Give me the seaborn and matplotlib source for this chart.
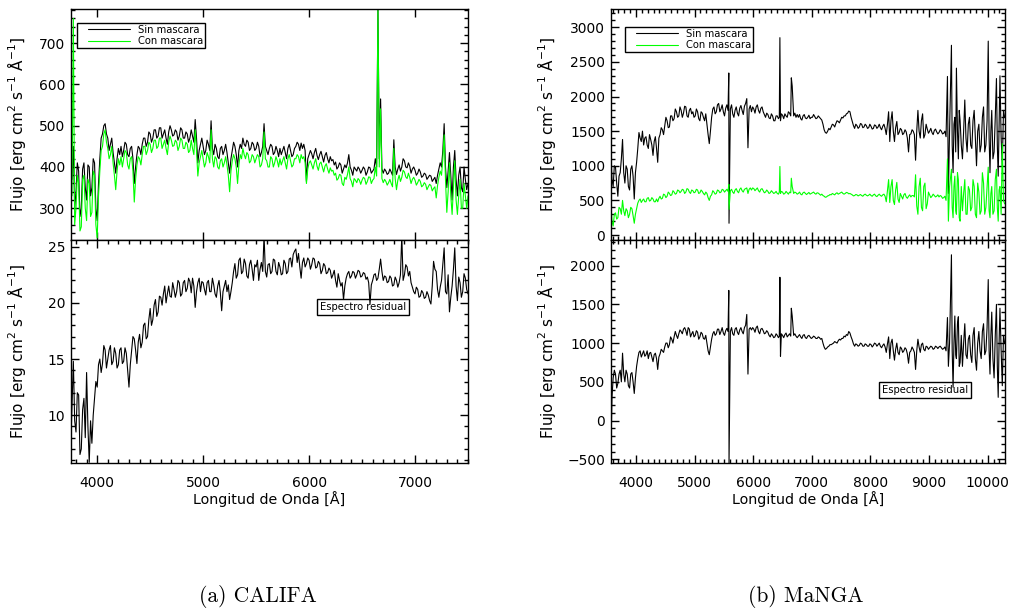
import numpy as np
import pandas as pd
import matplotlib
matplotlib.use("Agg")
import matplotlib.pyplot as plt
import seaborn as sns
from matplotlib.ticker import MultipleLocator, NullLocator
from matplotlib.legend_handler import HandlerLine2D
from matplotlib.lines import Line2D

# ---------------- CALIFA data ----------------
cal_wave = [
    3750, 3762.5, 3775, 3787.5, 3800, 3812.5, 3825, 3837.5, 3850, 3862.5,
    3875, 3887.5, 3900, 3912.5, 3925, 3937.5, 3950, 3962.5, 3975, 3987.5,
    4000, 4012.5, 4025, 4037.5, 4050, 4062.5, 4075, 4087.5, 4100, 4112.5,
    4125, 4137.5, 4150, 4162.5, 4175, 4187.5, 4200, 4212.5, 4225, 4237.5,
    4250, 4262.5, 4275, 4287.5, 4300, 4312.5, 4325, 4337.5, 4350, 4362.5,
    4375, 4387.5, 4400, 4412.5, 4425, 4437.5, 4450, 4462.5, 4475, 4487.5,
    4500, 4512.5, 4525, 4537.5, 4550, 4562.5, 4575, 4587.5, 4600, 4612.5,
    4625, 4637.5, 4650, 4662.5, 4675, 4687.5, 4700, 4712.5, 4725, 4737.5,
    4750, 4762.5, 4775, 4787.5, 4800, 4812.5, 4825, 4837.5, 4850, 4862.5,
    4875, 4887.5, 4900, 4912.5, 4925, 4937.5, 4950, 4962.5, 4975, 4987.5,
    5000, 5012.5, 5025, 5037.5, 5050, 5062.5, 5075, 5087.5, 5100, 5112.5,
    5125, 5137.5, 5150, 5162.5, 5175, 5187.5, 5200, 5212.5, 5225, 5237.5,
    5250, 5262.5, 5275, 5287.5, 5300, 5312.5, 5325, 5337.5, 5350, 5362.5,
    5375, 5387.5, 5400, 5412.5, 5425, 5437.5, 5450, 5462.5, 5475, 5487.5,
    5500, 5512.5, 5525, 5537.5, 5550, 5562.5, 5575, 5587.5, 5600, 5612.5,
    5625, 5637.5, 5650, 5662.5, 5675, 5687.5, 5700, 5712.5, 5725, 5737.5,
    5750, 5762.5, 5775, 5787.5, 5800, 5812.5, 5825, 5837.5, 5850, 5862.5,
    5875, 5887.5, 5900, 5912.5, 5925, 5937.5, 5950, 5962.5, 5975, 5987.5,
    6000, 6012.5, 6025, 6037.5, 6050, 6062.5, 6075, 6087.5, 6100, 6112.5,
    6125, 6137.5, 6150, 6162.5, 6175, 6187.5, 6200, 6212.5, 6225, 6237.5,
    6250, 6262.5, 6275, 6287.5, 6300, 6312.5, 6325, 6337.5, 6350, 6362.5,
    6375, 6387.5, 6400, 6412.5, 6425, 6437.5, 6450, 6462.5, 6475, 6487.5,
    6500, 6512.5, 6525, 6537.5, 6550, 6562.5, 6575, 6587.5, 6600, 6612.5,
    6625, 6637.5, 6650, 6662.5, 6675, 6687.5, 6700, 6712.5, 6725, 6737.5,
    6750, 6762.5, 6775, 6787.5, 6800, 6812.5, 6825, 6837.5, 6850, 6862.5,
    6875, 6887.5, 6900, 6912.5, 6925, 6937.5, 6950, 6962.5, 6975, 6987.5,
    7000, 7012.5, 7025, 7037.5, 7050, 7062.5, 7075, 7087.5, 7100, 7112.5,
    7125, 7137.5, 7150, 7162.5, 7175, 7187.5, 7200, 7212.5, 7225, 7237.5,
    7250, 7262.5, 7275, 7287.5, 7300, 7312.5, 7325, 7337.5, 7350, 7362.5,
    7375, 7387.5, 7400, 7412.5, 7425, 7437.5, 7450, 7462.5, 7475, 7487.5,
    7500]

cal_sin = [
    400, 370, 450, 300, 340, 410, 390, 280, 300, 395,
    410, 350, 320, 405, 400, 330, 350, 420, 410, 300,
    270, 360, 420, 470, 480, 500, 505, 480, 470, 440,
    455, 470, 435, 410, 385, 420, 445, 430, 450, 425,
    440, 460, 455, 430, 425, 445, 450, 420, 360, 400,
    430, 450, 445, 430, 455, 470, 470, 450, 460, 485,
    480, 460, 470, 490, 490, 470, 475, 495, 495, 470,
    480, 490, 470, 455, 485, 500, 490, 475, 478, 490,
    485, 465, 475, 495, 490, 470, 470, 485, 480, 460,
    470, 490, 475, 460, 515, 470, 410, 440, 455, 470,
    450, 430, 440, 465, 455, 440, 512, 445, 430, 455,
    445, 425, 420, 445, 450, 430, 440, 455, 435, 410,
    385, 420, 440, 460, 450, 430, 400, 440, 455, 445,
    470, 455, 450, 465, 460, 440, 445, 460, 455, 440,
    445, 460, 450, 425, 435, 450, 505, 450, 440, 430,
    445, 455, 450, 430, 435, 450, 440, 425, 445, 430,
    440, 450, 435, 420, 445, 455, 440, 425, 430, 445,
    450, 460, 455, 440, 458, 445, 455, 440, 365, 420,
    430, 440, 432, 420, 435, 445, 428, 418, 430, 438,
    425, 412, 428, 435, 420, 410, 425, 415, 418, 405,
    412, 395, 400, 410, 405, 385, 395, 405, 398, 410,
    430, 400, 392, 380, 400, 395, 390, 400, 395, 385,
    392, 400, 395, 380, 388, 400, 398, 385, 390, 395,
    420, 400, 790, 420, 565, 395, 385, 395, 390, 382,
    385, 395, 388, 380, 466, 400, 382, 395, 405, 390,
    400, 420, 415, 400, 398, 410, 402, 385, 395, 400,
    392, 380, 385, 395, 388, 375, 378, 385, 382, 370,
    375, 380, 378, 365, 370, 375, 360, 380, 395, 410,
    400, 440, 505, 400, 350, 390, 435, 380, 320, 400,
    440, 370, 330, 380, 400, 350, 340, 400, 370, 345,
    360]

cal_con = [
    360, 330, 760, 260, 300, 380, 360, 245, 255, 370,
    380, 300, 270, 370, 360, 280, 290, 390, 380, 260,
    228, 330, 390, 440, 450, 480, 490, 460, 445, 420,
    430, 450, 410, 380, 345, 390, 420, 405, 425, 400,
    420, 440, 435, 405, 395, 420, 425, 390, 315, 370,
    405, 425, 420, 405, 430, 450, 450, 430, 440, 460,
    455, 435, 445, 465, 465, 445, 450, 470, 470, 445,
    455, 465, 445, 430, 460, 475, 465, 450, 452, 465,
    460, 440, 450, 470, 465, 445, 445, 460, 455, 435,
    440, 465, 445, 430, 490, 440, 378, 410, 425, 440,
    420, 400, 410, 435, 425, 410, 490, 420, 400, 425,
    420, 400, 395, 415, 420, 400, 410, 425, 405, 380,
    340, 390, 415, 430, 420, 400, 360, 405, 430, 420,
    445, 430, 420, 435, 430, 410, 415, 430, 425, 410,
    420, 430, 425, 400, 405, 420, 485, 420, 415, 400,
    400, 425, 420, 400, 410, 425, 415, 400, 420, 405,
    415, 425, 410, 395, 420, 430, 415, 400, 405, 420,
    420, 430, 425, 410, 430, 420, 425, 410, 360, 395,
    410, 415, 405, 395, 410, 420, 402, 392, 408, 412,
    400, 388, 402, 408, 395, 385, 398, 390, 392, 380,
    385, 368, 372, 382, 380, 360, 355, 375, 370, 382,
    400, 372, 365, 352, 372, 368, 362, 372, 368, 358,
    368, 375, 372, 358, 365, 376, 375, 360, 368, 372,
    400, 378, 790, 400, 541, 372, 362, 370, 365, 356,
    362, 370, 360, 352, 445, 372, 345, 368, 380, 365,
    375, 392, 388, 376, 372, 385, 375, 360, 370, 375,
    368, 356, 362, 370, 365, 352, 355, 362, 358, 345,
    352, 358, 355, 342, 348, 352, 325, 355, 375, 390,
    380, 420, 478, 370, 290, 340, 410, 330, 285, 350,
    415, 320, 285, 330, 370, 300, 300, 360, 330, 300,
    330]

cal_res = [
    7.0, 11.0, 14.8, 9.5, 8.5, 12.0, 11.8, 6.5, 7.0, 10.5,
    11.5, 8.0, 13.8, 9.0, 5.8, 9.5, 7.5, 10.0, 11.5, 13.0,
    12.5, 14.5, 15.0, 13.8, 14.6, 16.2, 15.8, 14.2, 15.0, 15.8,
    16.2, 14.5, 14.8, 16.0, 15.5, 14.2, 14.5, 15.8, 16.0, 14.6,
    14.8, 16.0, 15.5, 14.0, 12.5, 14.5, 15.8, 17.0, 16.8, 15.8,
    14.6, 16.5, 17.2, 16.0, 16.5, 18.0, 18.2, 16.8, 17.0, 18.5,
    19.5, 18.0, 18.5, 19.8, 20.3, 18.8, 19.2, 20.6, 20.5, 19.8,
    20.8, 21.5, 20.0, 20.8, 21.5, 20.6, 20.5, 21.8, 21.2, 20.5,
    21.0, 22.0, 21.8, 20.6, 20.8, 21.8, 22.0, 21.0, 21.3, 22.2,
    21.9, 20.9, 22.2, 21.5, 19.6, 21.0, 21.8, 22.2, 21.0, 21.9,
    21.8, 21.2, 20.7, 21.8, 22.0, 21.0, 21.0, 22.2, 21.6, 20.8,
    20.5, 21.5, 22.0, 20.9, 19.3, 21.0, 21.5, 22.0, 21.0, 21.6,
    20.3, 21.0, 21.8, 22.8, 23.5, 22.2, 22.5, 23.8, 24.0, 22.6,
    22.8, 23.9, 23.5, 22.4, 22.2, 23.4, 23.8, 23.0, 22.0, 23.4,
    23.2, 23.8, 22.0, 23.0, 23.6, 22.8, 26.0, 22.8, 22.3, 23.4,
    23.5, 22.6, 22.8, 23.9, 23.8, 22.8, 22.5, 23.6, 23.2, 22.5,
    22.6, 23.8, 23.5, 22.6, 22.8, 23.9, 24.0, 23.2, 24.3, 24.6,
    24.8, 23.6, 24.4, 23.2, 22.2, 23.6, 24.0, 23.2, 23.5, 24.0,
    23.8, 23.0, 23.4, 24.0, 23.9, 23.1, 23.2, 23.7, 23.5, 22.6,
    22.9, 23.5, 23.3, 22.6, 22.7, 23.1, 22.9, 22.2, 22.5, 22.9,
    22.0, 21.4, 22.6, 22.0, 21.5, 21.8, 20.3, 21.5, 22.2, 22.6,
    22.8, 22.2, 22.4, 22.8, 22.7, 22.2, 22.5, 22.9, 22.8, 22.3,
    22.4, 22.7, 22.6, 22.1, 22.3, 21.8, 19.9, 21.6, 22.0, 22.5,
    22.6, 22.0, 22.2, 23.0, 23.9, 22.8, 22.0, 22.4, 22.3, 21.8,
    21.9, 22.4, 22.2, 21.5, 21.6, 22.3, 22.0, 21.4, 21.8, 22.5,
    26.0, 22.0, 22.5, 23.4, 23.2, 22.4, 22.8, 21.8, 21.4, 21.0,
    20.8, 21.4, 21.2, 20.5, 20.6, 21.1, 20.9, 20.4, 20.5, 21.0,
    20.7, 20.2, 19.9, 21.5, 23.7, 23.0, 22.8, 21.2, 20.5, 21.4,
    22.0, 23.5, 24.9, 21.0, 20.8, 22.5, 19.2, 20.5, 21.5, 23.0,
    24.9, 21.5, 20.2, 22.3, 21.8, 20.5, 21.0, 22.6, 22.2, 21.2,
    20.8]

# ---------------- MaNGA data ----------------
man_wave = [
    3570, 3590, 3610, 3630, 3650, 3670, 3690, 3710, 3730, 3750,
    3770, 3790, 3810, 3830, 3850, 3870, 3890, 3910, 3930, 3950,
    3970, 3990, 4010, 4030, 4050, 4070, 4090, 4110, 4130, 4150,
    4170, 4190, 4210, 4230, 4250, 4270, 4290, 4310, 4330, 4350,
    4370, 4390, 4410, 4430, 4450, 4470, 4490, 4510, 4530, 4550,
    4570, 4590, 4610, 4630, 4650, 4670, 4690, 4710, 4730, 4750,
    4770, 4790, 4810, 4830, 4850, 4870, 4890, 4910, 4930, 4950,
    4970, 4990, 5010, 5030, 5050, 5070, 5090, 5110, 5130, 5150,
    5170, 5190, 5210, 5230, 5250, 5270, 5290, 5310, 5330, 5350,
    5370, 5390, 5410, 5430, 5450, 5470, 5490, 5510, 5530, 5550,
    5570, 5583, 5587, 5610, 5630, 5650, 5670, 5690, 5710, 5730,
    5750, 5770, 5790, 5810, 5830, 5850, 5870, 5890, 5910, 5930, 5950,
    5970, 5990, 6010, 6030, 6050, 6070, 6090, 6110, 6130, 6150,
    6170, 6190, 6210, 6230, 6250, 6270, 6290, 6310, 6330, 6350,
    6370, 6390, 6410, 6430, 6445, 6455, 6465, 6480, 6500, 6520, 6540,
    6560, 6580, 6600, 6620, 6640, 6650, 6665, 6690, 6710, 6730, 6750,
    6770, 6790, 6810, 6830, 6850, 6870, 6890, 6910, 6930, 6950,
    6970, 6990, 7010, 7030, 7050, 7070, 7090, 7110, 7130, 7150,
    7170, 7190, 7210, 7230, 7250, 7270, 7290, 7310, 7330, 7350,
    7370, 7390, 7410, 7430, 7450, 7470, 7490, 7510, 7530, 7550,
    7570, 7590, 7610, 7630, 7650, 7670, 7690, 7710, 7730, 7750,
    7770, 7790, 7810, 7830, 7850, 7870, 7890, 7910, 7930, 7950,
    7970, 7990, 8010, 8030, 8050, 8070, 8090, 8110, 8130, 8150,
    8170, 8190, 8210, 8230, 8250, 8270, 8290, 8310, 8330, 8350,
    8370, 8390, 8410, 8430, 8450, 8470, 8490, 8510, 8530, 8550,
    8570, 8590, 8610, 8630, 8650, 8670, 8690, 8710, 8730, 8750,
    8770, 8790, 8810, 8830, 8850, 8870, 8890, 8910, 8930, 8950,
    8970, 8990, 9010, 9030, 9050, 9070, 9090, 9110, 9130, 9150,
    9170, 9190, 9210, 9230, 9250, 9270, 9290, 9314, 9330, 9350, 9382,
    9395, 9410, 9425, 9440, 9455, 9467, 9485, 9500, 9515, 9530, 9550,
    9570, 9590, 9610, 9630, 9650, 9670, 9690, 9710, 9730, 9750,
    9770, 9790, 9810, 9830, 9850, 9870, 9890, 9910, 9930, 9950,
    9970, 9990, 10010, 10025, 10040, 10055, 10070, 10090, 10110, 10130,
    10150, 10165, 10180, 10195, 10210, 10230, 10250, 10270, 10290]

man_sin = [
    1250, 800, 700, 1000, 980, 750, 560, 850, 900, 1100,
    1380, 900, 750, 1000, 950, 700, 650, 950, 1000, 850,
    520, 900, 1050, 1250, 1480, 1400, 1350, 1500, 1300, 1400,
    1420, 1300, 1250, 1450, 1380, 1300, 1150, 1350, 1420, 1250,
    1050, 1400, 1450, 1550, 1520, 1450, 1580, 1700, 1650, 1550,
    1560, 1720, 1720, 1650, 1680, 1820, 1780, 1700, 1720, 1850,
    1800, 1700, 1760, 1860, 1850, 1720, 1700, 1800, 1830, 1750,
    1780, 1700, 1720, 1820, 1780, 1680, 1650, 1780, 1760, 1700,
    1650, 1750, 1600, 1450, 1320, 1500, 1700, 1820, 1850, 1750,
    1780, 1880, 1900, 1780, 1820, 1880, 1780, 1720, 1830, 1880,
    1800, 2340, 170, 1820, 1880, 1750, 1700, 1800, 1850, 1760,
    1720, 1830, 1870, 1800, 1740, 1860, 1900, 1970, 1260, 1820, 1870,
    1780, 1850, 1820, 1760, 1850, 1880, 1800, 1760, 1830, 1850,
    1780, 1740, 1700, 1760, 1740, 1690, 1680, 1750, 1720, 1650,
    1650, 1720, 1720, 1680, 1700, 2850, 1650, 1750, 1730, 1680, 1750,
    1720, 1700, 1780, 1760, 1720, 2270, 2150, 1720, 1760, 1700, 1740,
    1700, 1740, 1680, 1660, 1720, 1740, 1690, 1680, 1700, 1730,
    1680, 1700, 1700, 1740, 1710, 1680, 1690, 1720, 1700, 1680,
    1660, 1600, 1520, 1480, 1470, 1500, 1540, 1520, 1560, 1600,
    1590, 1560, 1610, 1650, 1640, 1620, 1660, 1700, 1690, 1720,
    1720, 1750, 1760, 1790, 1780, 1700, 1640, 1580, 1540, 1600,
    1580, 1540, 1560, 1610, 1600, 1550, 1560, 1600, 1580, 1540,
    1550, 1600, 1570, 1530, 1540, 1590, 1580, 1540, 1560, 1600,
    1550, 1520, 1570, 1600, 1540, 1450, 1600, 1780, 1350, 1650,
    1780, 1500, 1350, 1550, 1640, 1450, 1480, 1540, 1520, 1450,
    1470, 1520, 1490, 1400, 1200, 1450, 1460, 1520, 1500, 1450,
    1080, 1500, 1800, 1500, 1400, 1650, 1750, 1400, 1450, 1600,
    1530, 1470, 1500, 1540, 1480, 1450, 1510, 1530, 1490, 1460,
    1480, 1520, 1500, 1460, 1470, 1500, 1420, 2290, 600, 1500, 2740,
    1300, 900, 1600, 1700, 1200, 2410, 1500, 1100, 1800, 1650, 1300,
    1100, 1500, 1950, 1400, 1200, 1600, 1700, 1300, 1250, 1650,
    1800, 1400, 1000, 1500, 1600, 1200, 1300, 1700, 1850, 1200,
    1300, 1650, 2800, 1400, 900, 1500, 1800, 1100, 1200, 1700,
    2260, 1300, 850, 1600, 2300, 1400, 1000, 1800, 1700]

man_con = [
    450, 200, 130, 300, 320, 230, 250, 400, 380, 300,
    500, 350, 280, 380, 350, 250, 300, 400, 380, 280,
    170, 300, 380, 460, 500, 520, 470, 500, 520, 480,
    480, 530, 540, 490, 500, 540, 520, 480, 480, 520,
    480, 530, 560, 520, 530, 590, 580, 540, 560, 620,
    600, 570, 580, 640, 620, 590, 600, 650, 640, 610,
    630, 660, 650, 600, 620, 670, 660, 620, 600, 650,
    640, 610, 620, 660, 650, 600, 610, 650, 630, 600,
    580, 620, 600, 540, 500, 560, 580, 640, 620, 590,
    600, 650, 640, 610, 620, 660, 650, 620, 640, 660,
    630, 730, 370, 640, 660, 620, 600, 650, 670, 630,
    610, 660, 680, 640, 620, 660, 670, 680, 600, 660, 680,
    650, 680, 670, 640, 660, 680, 640, 620, 660, 670,
    640, 610, 620, 650, 630, 600, 610, 640, 620, 600,
    610, 630, 600, 590, 620, 990, 600, 630, 620, 590, 600,
    630, 610, 590, 620, 610, 820, 700, 600, 620, 610, 590,
    600, 620, 590, 580, 610, 620, 600, 585, 600, 615,
    590, 600, 610, 620, 600, 590, 610, 605, 590, 575,
    590, 570, 560, 545, 550, 565, 570, 585, 580, 600,
    590, 580, 600, 610, 590, 600, 610, 620, 600, 590,
    600, 615, 610, 595, 600, 590, 580, 565, 570, 585,
    580, 565, 575, 585, 570, 560, 580, 590, 575, 565,
    575, 590, 570, 560, 580, 590, 565, 555, 575, 590,
    570, 560, 580, 590, 560, 480, 640, 800, 470, 700,
    800, 500, 440, 650, 760, 520, 470, 600, 560, 520,
    580, 600, 550, 530, 560, 580, 550, 570, 570, 550,
    870, 420, 300, 700, 820, 400, 350, 700, 750, 380,
    450, 620, 580, 540, 560, 590, 570, 550, 560, 580,
    550, 570, 560, 530, 540, 560, 500, 1100, 200, 700, 950,
    400, 250, 700, 850, 350, 300, 900, 800, 250, 200, 700,
    350, 600, 800, 300, 300, 700, 650, 350, 400, 800,
    700, 300, 250, 750, 620, 300, 350, 900, 750, 300,
    400, 700, 980, 350, 250, 600, 700, 300, 350, 800,
    950, 400, 200, 650, 700, 300, 1320, 500, 450]

man_res = [
    -450, 300, 550, 650, 600, 420, 480, 600, 650, 500,
    870, 600, 500, 650, 600, 450, 420, 600, 620, 500,
    350, 550, 700, 800, 880, 900, 820, 860, 900, 830,
    850, 900, 800, 870, 880, 820, 760, 850, 870, 800,
    660, 820, 860, 920, 900, 880, 950, 1000, 1000, 940,
    980, 1080, 1050, 1000, 1080, 1150, 1100, 1060, 1120, 1170,
    1150, 1120, 1180, 1200, 1160, 1100, 1200, 1180, 1080, 1120,
    1150, 1080, 1100, 1160, 1140, 1050, 1080, 1140, 1120, 1060,
    1050, 1100, 1000, 900, 850, 950, 1050, 1120, 1150, 1100,
    1120, 1180, 1180, 1110, 1150, 1200, 1130, 1100, 1160, 1190,
    1150, 1680, -560, 1150, 1200, 1120, 1100, 1180, 1200, 1140,
    1110, 1170, 1200, 1150, 1120, 1200, 1230, 1370, 600, 1180, 1200,
    1170, 1200, 1180, 1140, 1200, 1220, 1150, 1120, 1180, 1190,
    1160, 1120, 1130, 1160, 1140, 1100, 1080, 1120, 1100, 1070,
    1080, 1120, 1100, 1070, 1090, 1850, 830, 1120, 1100, 1070, 1110,
    1130, 1080, 1100, 1120, 1090, 1450, 1350, 1100, 1120, 1090, 1070,
    1090, 1110, 1080, 1060, 1100, 1110, 1070, 1060, 1090, 1100,
    1080, 1060, 1070, 1090, 1080, 1060, 1060, 1080, 1070, 1050,
    1060, 1000, 950, 920, 930, 950, 960, 980, 980, 990,
    1000, 1020, 1010, 1000, 1030, 1050, 1040, 1060, 1060, 1090,
    1080, 1110, 1100, 1150, 1130, 1080, 1040, 990, 960, 990,
    980, 960, 970, 1000, 990, 960, 960, 990, 980, 960,
    960, 990, 980, 950, 970, 1000, 990, 960, 980, 1000,
    960, 940, 970, 990, 950, 880, 990, 1080, 800, 1000,
    1050, 900, 780, 920, 1000, 880, 850, 950, 930, 880,
    900, 940, 920, 860, 740, 880, 900, 950, 920, 880,
    660, 900, 1050, 950, 880, 980, 1000, 920, 900, 960,
    950, 920, 940, 960, 950, 920, 930, 960, 950, 930,
    950, 960, 940, 920, 930, 950, 900, 1330, 700, 1000, 2140,
    900, 430, 1000, 1350, 850, 800, 1250, 1340, 700, 750, 1100,
    700, 1000, 1250, 850, 800, 1050, 1100, 850, 750, 1100,
    1200, 800, 650, 1000, 1150, 900, 800, 1150, 1250, 850,
    900, 1200, 1820, 900, 600, 1100, 1400, 800, 550, 1100,
    1500, 700, 300, 1000, 1450, 900, 450, 1100, 1000]

legend_labels = ["Sin mascara", "Con mascara"]
residual_label = "Espectro residual"
ylabel_text = "Flujo [erg cm$^{2}$ s$^{-1}$ Å$^{-1}$]"
xlabel_text = "Longitud de Onda [Å]"
captions = ["(a) CALIFA", "(b) MaNGA"]

# ---------------- style ----------------
sns.set_style("ticks", rc={"axes.edgecolor": "black", "xtick.color": "black",
                           "ytick.color": "black", "text.color": "black",
                           "axes.labelcolor": "black"})
plt.rcParams["font.family"] = ["DejaVu Sans"]

W, H = 1012, 610
fig = plt.figure(figsize=(W / 100, H / 100), dpi=100)


def axpos(x0, x1, y0, y1):
    return [x0 / W, 1 - y1 / H, (x1 - x0) / W, (y1 - y0) / H]


ax_ct = fig.add_axes(axpos(70.7, 468, 9, 240))
ax_cb = fig.add_axes(axpos(70.7, 468, 240, 462.7))
ax_mt = fig.add_axes(axpos(610.7, 1005, 9, 240))
ax_mb = fig.add_axes(axpos(610.7, 1005, 240, 462.7))

LW = 0.8
GREEN = "#00ff00"

cal_df = pd.DataFrame({"wave": cal_wave, "sin": cal_sin, "con": cal_con, "res": cal_res})
man_df = pd.DataFrame({"wave": man_wave, "sin": man_sin, "con": man_con, "res": man_res})

sns.lineplot(data=cal_df, x="wave", y="sin", ax=ax_ct, color="black", lw=LW,
             sort=False, estimator=None, label=legend_labels[0], legend=False)
sns.lineplot(data=cal_df, x="wave", y="con", ax=ax_ct, color=GREEN, lw=LW,
             sort=False, estimator=None, label=legend_labels[1], legend=False)
sns.lineplot(data=cal_df, x="wave", y="res", ax=ax_cb, color="black", lw=LW,
             sort=False, estimator=None, legend=False)

sns.lineplot(data=man_df, x="wave", y="sin", ax=ax_mt, color="black", lw=LW,
             sort=False, estimator=None, label=legend_labels[0], legend=False)
sns.lineplot(data=man_df, x="wave", y="con", ax=ax_mt, color=GREEN, lw=LW,
             sort=False, estimator=None, label=legend_labels[1], legend=False)
sns.lineplot(data=man_df, x="wave", y="res", ax=ax_mb, color="black", lw=LW,
             sort=False, estimator=None, legend=False)

# limits
ax_ct.set_xlim(3750, 7500); ax_cb.set_xlim(3750, 7500)
ax_ct.set_ylim(223, 783); ax_cb.set_ylim(5.77, 25.6)
ax_mt.set_xlim(3568, 10296); ax_mb.set_xlim(3568, 10296)
ax_mt.set_ylim(-72, 3264); ax_mb.set_ylim(-544, 2331)

# ticks
ax_ct.xaxis.set_major_locator(MultipleLocator(1000)); ax_ct.xaxis.set_minor_locator(NullLocator())
ax_ct.yaxis.set_major_locator(MultipleLocator(100)); ax_ct.yaxis.set_minor_locator(MultipleLocator(20))
ax_cb.xaxis.set_major_locator(MultipleLocator(1000)); ax_cb.xaxis.set_minor_locator(MultipleLocator(100))
ax_cb.yaxis.set_major_locator(MultipleLocator(5)); ax_cb.yaxis.set_minor_locator(MultipleLocator(1))
for ax in (ax_mt, ax_mb):
    ax.xaxis.set_major_locator(MultipleLocator(1000)); ax.xaxis.set_minor_locator(MultipleLocator(100))
    ax.yaxis.set_major_locator(MultipleLocator(500)); ax.yaxis.set_minor_locator(MultipleLocator(100))

for ax in (ax_ct, ax_cb, ax_mt, ax_mb):
    ax.tick_params(which="both", direction="in", top=True, right=True, bottom=True,
                   left=True, width=1.0, colors="black", labelsize=10)
    ax.tick_params(which="major", length=6)
    ax.tick_params(which="minor", length=3)
    ax.tick_params(axis="x", which="both", pad=9.5)
    ax.tick_params(axis="y", which="both", pad=4)
    for s in ax.spines.values():
        s.set_linewidth(1.0)
        s.set_color("black")
    ax.set_xlabel("")
    ax.set_ylabel(ylabel_text, fontsize=11)

for ax in (ax_ct, ax_mt):
    ax.tick_params(labelbottom=False)

ax_ct.yaxis.set_label_coords(-0.1075, 0.5)
ax_cb.yaxis.set_label_coords(-0.1075, 0.5)
ax_mt.yaxis.set_label_coords(-0.134, 0.5)
ax_mb.yaxis.set_label_coords(-0.134, 0.5)

for ax in (ax_cb, ax_mb):
    ax.set_xlabel(xlabel_text, fontsize=10.3)
    ax.xaxis.set_label_coords(0.5, -0.128)

# legends
for ax, anchor in ((ax_ct, (0.0151, 0.9407)), (ax_mt, (0.0363, 0.9234))):
    leg = ax.legend(handles=ax.lines[:2], labels=legend_labels, loc="upper left",
                    bbox_to_anchor=anchor, borderaxespad=0, fontsize=7.2,
                    frameon=True, fancybox=False, edgecolor="black", framealpha=1,
                    borderpad=0.2, labelspacing=0.16, handlelength=5.13,
                    handletextpad=0.77,
                    handler_map={Line2D: HandlerLine2D(xpad=0.9)})
    leg.get_frame().set_linewidth(1.0)

# residual labels
box = dict(boxstyle="square,pad=0.3", fc="white", ec="black", lw=1.0)
ax_cb.text(0.7357, 0.6992, residual_label, transform=ax_cb.transAxes, ha="center",
           va="center", fontsize=7.2, bbox=box, zorder=1)
ax_mb.text(0.797, 0.3277, residual_label, transform=ax_mb.transAxes, ha="center",
           va="center", fontsize=7.2, bbox=box, zorder=1)

# captions
fig.text(258 / W, 1 - 597 / H, captions[0], ha="center", va="center", fontsize=15.5,
         family="cmr10")
fig.text(806 / W, 1 - 597 / H, captions[1], ha="center", va="center", fontsize=15.5,
         family="cmr10")

fig.savefig("out.png", dpi=100)
